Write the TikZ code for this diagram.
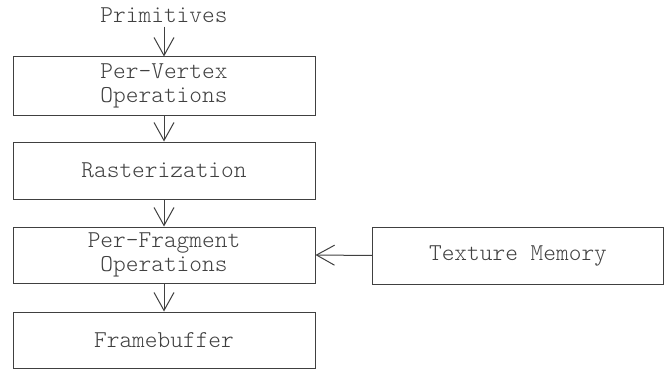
\documentclass[tikz,border=0pt]{standalone}
\usepackage{fontspec}
\setmonofont{Latin Modern Mono Light}
\usetikzlibrary{arrows.meta}
\definecolor{ink}{rgb}{0.25,0.25,0.25}
\begin{document}
\begin{tikzpicture}[x=1pt,y=-1pt,
  box/.style={draw=ink, line width=1pt, minimum width=302pt, inner sep=0pt, align=center, text=ink,
    font=\ttfamily\fontsize{24.2}{24}\selectfont},
  lbl/.style={inner sep=0pt, text=ink, font=\ttfamily\fontsize{24.2}{24}\selectfont},
  flow/.style={draw=ink, line width=1pt, -{Straight Barb[length=18pt,width=20pt,line width=1pt]}}]
\useasboundingbox (0,0) rectangle (664,369);
\node[lbl] (prim) at (164,15) {Primitives};
\node[box, minimum height=58pt] (pv) at (164,86) {Per-Vertex\\Operations};
\node[box, minimum height=57pt] (ras) at (164,170.5) {Rasterization};
\node[box, minimum height=56pt] (pf) at (164,255) {Per-Fragment\\Operations};
\node[box, minimum height=56pt] (fb) at (164,340) {Framebuffer};
\node[box, minimum width=291pt, minimum height=57pt] (tex) at (518,255.5) {Texture Memory};
\draw[flow] ([yshift=-4pt]prim.south) -- (pv.north);
\draw[flow] (pv.south) -- (ras.north);
\draw[flow] (ras.south) -- (pf.north);
\draw[flow] (pf.south) -- (fb.north);
\draw[flow] (tex.west) -- (pf.east);
\end{tikzpicture}
\end{document}
